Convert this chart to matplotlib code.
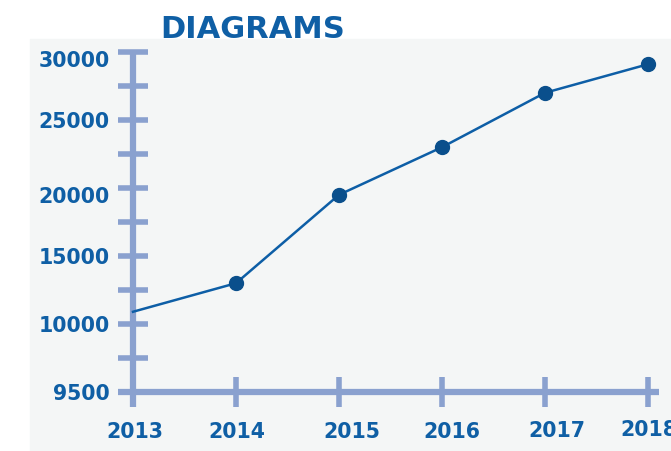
import numpy as np
import matplotlib
matplotlib.use("Agg")
import matplotlib.pyplot as plt
from matplotlib.patches import Rectangle
from matplotlib.transforms import ScaledTranslation

# data
years = [2013, 2014, 2015, 2016, 2017, 2018]
values = [10900, 13000, 19500, 23000, 27000, 29100]
y_ticks = [9500, 10000, 15000, 20000, 25000, 30000]
y_minor = [9750, 12500, 17500, 22500, 27500]

# uneven axis: each labelled value sits one step above the previous one
scale_vals = [9000, 9500, 10000, 15000, 20000, 25000, 30000, 35000]
scale_pos = [-1, 0, 1, 2, 3, 4, 5, 6]

def fwd(v):
    return np.interp(v, scale_vals, scale_pos)

def inv(p):
    return np.interp(p, scale_pos, scale_vals)

text_col = '#0f5fa5'
axis_col = '#8aa1cf'
W, H = 671, 451

fig = plt.figure(figsize=(W / 100, H / 100), dpi=100)
fig.patches.append(Rectangle((30 / W, 0), 1 - 30 / W, 1 - 39 / H,
                             transform=fig.transFigure, color='#f4f6f6', zorder=-5))

ax = fig.add_axes([118 / W, 1 - 407 / H, (659 - 118) / W, (407 - 50) / H])
ax.patch.set_alpha(0)
ax.set_yscale('function', functions=(fwd, inv))
ax.set_xlim(2013 - 15 / 103, 2018 + 11 / 103)
ax.set_ylim(inv(-15 / 68), inv(342 / 68))

ax.plot(years, values, color='#0d5ea6', lw=1.8, marker='o', markersize=10,
        markerfacecolor='#0a4f8c', markeredgecolor='#0a4f8c',
        markevery=slice(1, None), zorder=3, clip_on=False)

for s in ['top', 'right']:
    ax.spines[s].set_visible(False)
ax.spines['left'].set_position(('data', 2013))
ax.spines['bottom'].set_position(('data', 9500))
ax.spines['left'].set_bounds(ax.get_ylim()[0], 30000)
for s in ['left', 'bottom']:
    ax.spines[s].set_color(axis_col)
    ax.spines[s].set_linewidth(4.5)
    ax.spines[s].set_capstyle('butt')

ax.set_xticks(years)
ax.set_xticklabels([str(y) for y in years])
ax.set_yticks(y_ticks)
ax.set_yticklabels([str(v) for v in y_ticks])
ax.set_yticks(y_minor, minor=True)
ax.tick_params(axis='both', which='both', direction='inout', length=21.6,
               width=4, color=axis_col)
ax.tick_params(axis='y', which='minor', labelleft=False)
ax.tick_params(axis='y', pad=5.8)
ax.tick_params(axis='x', pad=11)

for lab in ax.get_xticklabels() + ax.get_yticklabels():
    lab.set_fontsize(14.8)
    lab.set_fontweight('bold')
    lab.set_color(text_col)

x_shift = [2, 1, 13, 10, 12, 1]
x_rise = [0, 0, 0, 0, 1, 2]
for lab, dx, dy in zip(ax.get_xticklabels(), x_shift, x_rise):
    lab.set_transform(lab.get_transform() + ScaledTranslation(dx / 100, dy / 100, fig.dpi_scale_trans))
y_shift = [0, 0, 0, -7, 0, -7]
for lab, dy in zip(ax.get_yticklabels(), y_shift):
    lab.set_transform(lab.get_transform() + ScaledTranslation(0, dy / 100, fig.dpi_scale_trans))

fig.text(160 / W, 1 - 38 / H, 'DIAGRAMS', fontsize=22, fontweight='bold',
         color=text_col, va='baseline', ha='left')

fig.savefig('out.png', dpi=100)
